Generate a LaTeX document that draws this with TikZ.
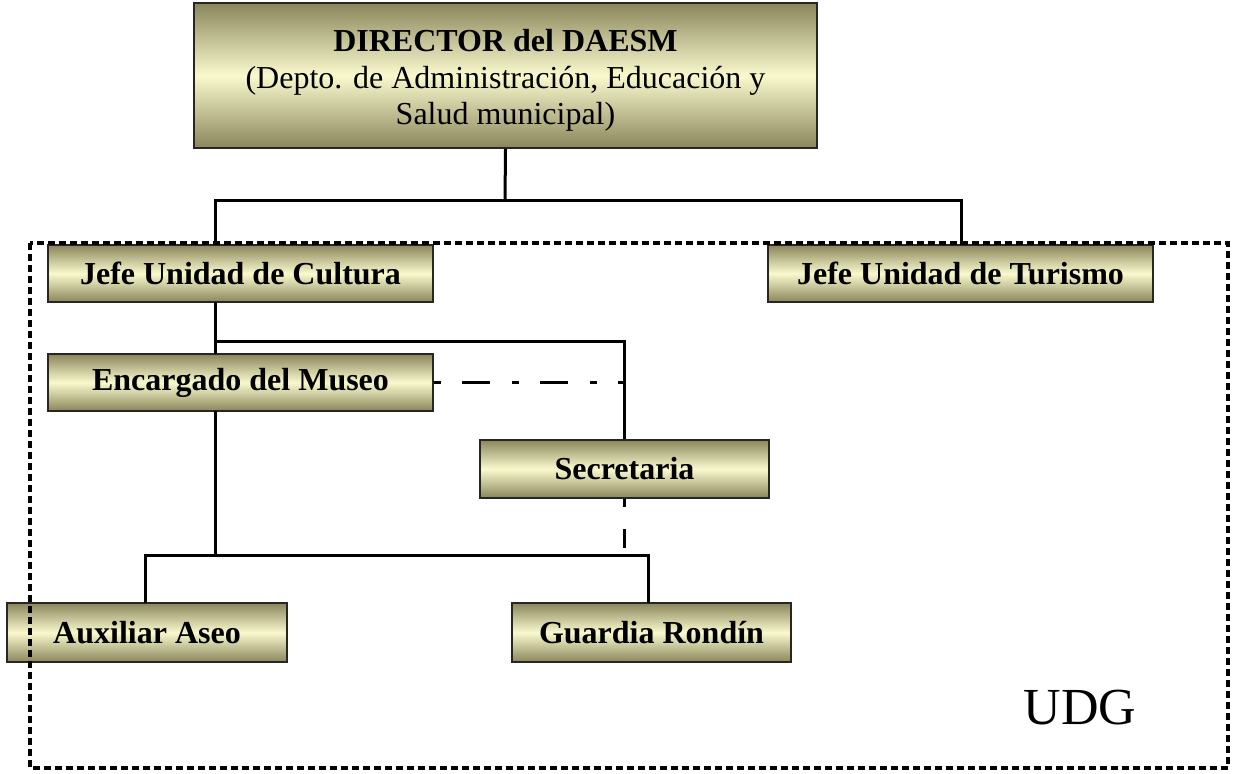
\documentclass[tikz,border=0pt]{standalone}
\usepackage{fontspec}
\setmainfont{Liberation Serif}
\definecolor{olivedark}{RGB}{138,134,92}
\definecolor{olivelight}{RGB}{250,249,206}
\tikzset{
  x=1pt,y=-1pt,
  orgbox/.style={draw=black!85, line width=1.8pt, inner sep=0pt,
    top color=olivedark, bottom color=olivedark, middle color=olivelight,
    font=\fontsize{32}{35.5}\selectfont\bfseries, align=center},
  boxtext/.style={inner sep=0pt, font=\fontsize{32}{36.5}\selectfont, align=center},
  conn/.style={line width=3pt, line join=miter},
  dashdot/.style={line width=3pt, dash pattern=on 7pt off 21pt on 28pt off 22pt},
  dashsec/.style={line width=3pt, dash pattern=on 8pt off 22pt on 20pt off 60pt},
  udgframe/.style={line width=3.5pt, dash pattern=on 7pt off 4pt}
}
\begin{document}
\begin{tikzpicture}
\useasboundingbox (0,0) rectangle (1233,773);
% boxes
\node[orgbox, minimum width=623pt, minimum height=145pt] (dir) at (505.5,75.5) {};
\node[boxtext, yshift=-5pt] (dirtext) at (dir.center)
  {\textbf{DIRECTOR del DAESM}\\(Depto. de Administración, Educación y\\Salud municipal)};
\node[orgbox, minimum width=385pt, minimum height=57pt] (cult) at (240.5,273.5) {Jefe Unidad de Cultura};
\node[orgbox, minimum width=385pt, minimum height=57pt] (tur) at (960.5,273.5) {Jefe Unidad de Turismo};
\node[orgbox, minimum width=385pt, minimum height=57pt] (enc) at (240.5,382.5) {Encargado del Museo};
\node[orgbox, minimum width=289pt, minimum height=58pt] (sec) at (624.5,469) {Secretaria};
\node[orgbox, minimum width=280pt, minimum height=59pt] (aux) at (147,632.5) {Auxiliar Aseo};
\node[orgbox, minimum width=279pt, minimum height=59pt] (gua) at (651.5,632.5) {Guardia Rondín};
% attachment points
\coordinate (busA) at (505,200);
\coordinate (cultT) at (215,245);
\coordinate (turT) at (961,245);
\coordinate (cultB) at (215,302);
\coordinate (encT) at (215,354);
\coordinate (split) at (215,341);
\coordinate (encB) at (215,411);
\coordinate (busB) at (215,555);
\coordinate (auxT) at (145,603);
\coordinate (guaT) at (648,603);
\coordinate (secEnd) at (624.5,548);
% connectors
\draw[conn] (dir.south) -- (busA);
\draw[conn] (cultT) |- (busA) -| (turT);
\draw[conn] (cultB) -- (encT);
\draw[conn] (split) -| (sec.north);
\draw[dashdot] (enc.east) -- (enc.east -| sec.north);
\draw[conn] (encB) -- (busB);
\draw[conn] (auxT) |- (busB) -| (guaT);
\draw[dashsec] (sec.south) -- (secEnd);
% UDG frame
\draw[udgframe] (30,243) rectangle (1228,768);
\node[font=\fontsize{52}{60}\selectfont] (udg) at (1080,708) {UDG};
\end{tikzpicture}
\end{document}
